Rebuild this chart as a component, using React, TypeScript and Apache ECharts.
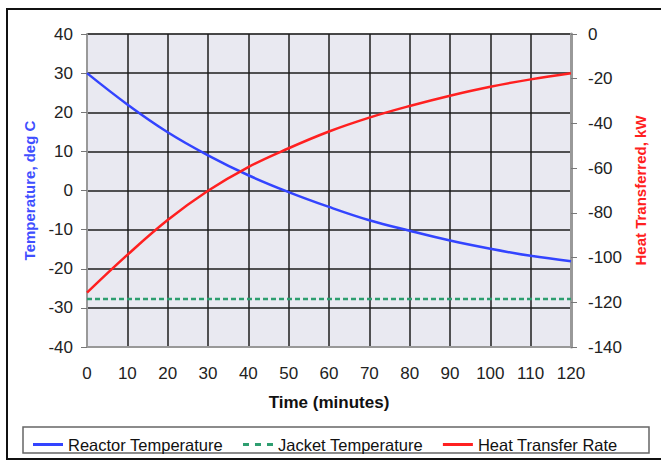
import React, { useEffect, useRef } from "react";
import * as echarts from "echarts";

const times = [0, 10, 20, 30, 40, 50, 60, 70, 80, 90, 100, 110, 120];
const reactorTemp = [30, 22, 14.9, 9, 3.9, -0.4, -4.2, -7.6, -10.3, -12.8, -14.9, -16.7, -18.1];
const jacketTemp = [-27.7, -27.7, -27.7, -27.7, -27.7, -27.7, -27.7, -27.7, -27.7, -27.7, -27.7, -27.7, -27.7];
const heatRate = [-115.7, -98.8, -83.2, -70.1, -59.5, -51.1, -43.6, -37.4, -32.2, -27.6, -23.6, -20.3, -17.6];
const seriesNames = ["Reactor Temperature", "Jacket Temperature", "Heat Transfer Rate"];

const pairs = (ys: number[]) => times.map((t, i) => [t, ys[i]]);

export default function App() {
  const ref = useRef<HTMLDivElement>(null);
  useEffect(() => {
    if (!ref.current) return;
    const chart = echarts.init(ref.current, undefined, { renderer: "svg" });
    const font = "Liberation Sans, Arial, Helvetica, sans-serif";
    const solidIcon = "path://M0,0h30v3h-30z";
    const dashIcon = "path://M0,0h6v3h-6z M12,0h6v3h-6z M24,0h6v3h-6z";
    chart.setOption({
      animation: false,
      textStyle: { fontFamily: font },
      graphic: [
        {
          type: "rect",
          shape: { x: 7, y: 9, width: 660, height: 450 },
          style: { fill: "none", stroke: "#111", lineWidth: 2 },
          z: -1,
        },
        {
          type: "rect",
          shape: { x: 23, y: 427, width: 626, height: 26 },
          style: { fill: "#fff", stroke: "#666", lineWidth: 1.5 },
          z: 0,
        },
      ],
      grid: {
        left: 87,
        right: 90,
        top: 34,
        bottom: 115,
        show: true,
        backgroundColor: "#E9E9F1",
        borderColor: "#999",
        borderWidth: 1,
      },
      legend: {
        left: 28,
        top: 431,
        itemWidth: 30,
        itemHeight: 3,
        itemGap: 20,
        data: [
          { name: seriesNames[0], icon: solidIcon },
          { name: seriesNames[1], icon: dashIcon },
          { name: seriesNames[2], icon: solidIcon },
        ],
        textStyle: { fontSize: 16.5, color: "#111", fontFamily: font },
      },
      xAxis: {
        type: "value",
        min: 0,
        max: 120,
        interval: 10,
        name: "Time (minutes)",
        nameLocation: "middle",
        nameGap: 47,
        nameTextStyle: { fontSize: 17, fontWeight: "bold", color: "#111" },
        axisLine: { show: true, onZero: false, lineStyle: { color: "#999", width: 2 } },
        axisTick: { show: false },
        axisLabel: { fontSize: 17, color: "#222", margin: 18 },
        splitLine: { show: true, lineStyle: { color: "#1c1c1c", width: 1.5 } },
      },
      yAxis: [
        {
          type: "value",
          min: -40,
          max: 40,
          interval: 10,
          position: "left",
          name: "Temperature, deg C",
          nameLocation: "middle",
          nameRotate: 90,
          nameGap: 50,
          nameTextStyle: { fontSize: 15, fontWeight: "bold", color: "#3F4FFF" },
          axisLine: { show: true, onZero: false, lineStyle: { color: "#999", width: 2 } },
          axisTick: { show: true, length: 6, lineStyle: { color: "#777" } },
          axisLabel: { fontSize: 17, color: "#222", margin: 14 },
          splitLine: { show: true, lineStyle: { color: "#1c1c1c", width: 1.5 } },
        },
        {
          type: "value",
          min: -140,
          max: 0,
          interval: 20,
          position: "right",
          name: "Heat Transferred, kW",
          nameLocation: "middle",
          nameRotate: 90,
          nameGap: 60,
          nameTextStyle: { fontSize: 15, fontWeight: "bold", color: "#FF2020" },
          axisLine: { show: true, onZero: false, lineStyle: { color: "#999", width: 3 } },
          axisTick: { show: true, length: 6, lineStyle: { color: "#777" } },
          axisLabel: { fontSize: 17, color: "#222", margin: 17 },
          splitLine: { show: false },
        },
      ],
      series: [
        {
          name: seriesNames[0],
          type: "line",
          yAxisIndex: 0,
          symbol: "none",
          smooth: 0.4,
          data: pairs(reactorTemp),
          lineStyle: { color: "#3344FF", width: 2.5 },
          itemStyle: { color: "#3344FF" },
          z: 3,
        },
        {
          name: seriesNames[1],
          type: "line",
          yAxisIndex: 0,
          symbol: "none",
          data: pairs(jacketTemp),
          lineStyle: { color: "#2E9E70", width: 2.5, type: [5, 3] },
          itemStyle: { color: "#2E9E70" },
          z: 2,
        },
        {
          name: seriesNames[2],
          type: "line",
          yAxisIndex: 1,
          symbol: "none",
          smooth: 0.4,
          data: pairs(heatRate),
          lineStyle: { color: "#FF2020", width: 2.5 },
          itemStyle: { color: "#FF2020" },
          z: 3,
        },
      ],
    });
    return () => chart.dispose();
  }, []);
  return (
    <div
      ref={ref}
      style={{ position: "fixed", left: 0, top: 0, width: 661, height: 462, background: "#fff" }}
    />
  );
}
